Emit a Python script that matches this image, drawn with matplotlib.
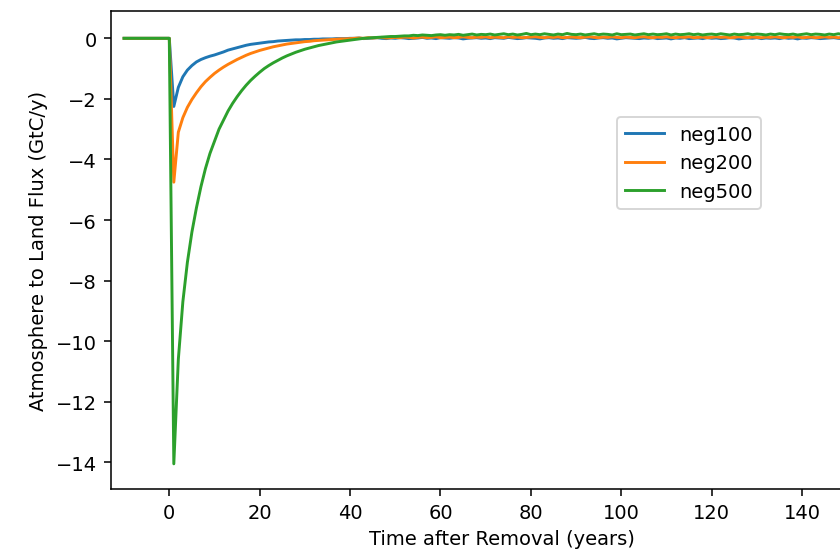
import numpy as np
import matplotlib as mpl
mpl.use("Agg")
from matplotlib import pyplot as plt

years = np.arange(-10, 156)
pre = [0.0] * 11  # t = -10 .. 0

neg100_early = [-2.25, -1.62, -1.27, -1.05, -0.90, -0.78, -0.70, -0.64, -0.59, -0.55,
                -0.50, -0.45, -0.39, -0.35, -0.31, -0.27, -0.23, -0.20, -0.18, -0.16,
                -0.14, -0.12, -0.11, -0.09, -0.08, -0.07, -0.06, -0.05, -0.05, -0.04,
                -0.04, -0.03, -0.03, -0.02, -0.02, -0.02, -0.01, -0.01, -0.01, 0.00]
neg100_late = [0.00, 0.01, -0.01, 0.00, 0.01, 0.02, 0.00, -0.01, 0.01, 0.00,
               0.02, 0.01, -0.01, 0.00, 0.01, 0.03, 0.00, 0.01, -0.01, 0.02,
               0.01, 0.00, 0.02, 0.01, -0.02, 0.00, 0.01, 0.02, 0.00, 0.01,
               -0.01, 0.02, 0.01, 0.00, 0.03, 0.01, -0.01, 0.00, 0.02, 0.01,
               0.00, -0.02, 0.01, 0.02, 0.00, 0.01, -0.01, 0.02, 0.01, 0.00,
               0.01, 0.03, 0.00, -0.01, 0.01, 0.02, 0.00, 0.01, -0.02, 0.00,
               0.02, 0.01, 0.00, -0.01, 0.01, 0.00, 0.02, -0.01, 0.00, 0.01,
               -0.02, 0.01, 0.00, 0.02, -0.01, 0.00, 0.01, -0.01, 0.02, 0.00,
               0.01, -0.01, 0.00, 0.02, 0.01, -0.02, 0.00, 0.01, 0.00, 0.02,
               -0.01, 0.01, 0.00, 0.01, -0.01, 0.02, 0.00, 0.01, -0.02, 0.01,
               0.00, 0.02, 0.01, -0.01, 0.00, 0.01, 0.02, 0.00, -0.01, 0.01,
               0.00, 0.02, 0.01, 0.00, 0.01]

neg200_early = [-4.75, -3.10, -2.62, -2.28, -2.02, -1.80, -1.60, -1.43, -1.29, -1.16,
                -1.05, -0.95, -0.86, -0.78, -0.70, -0.63, -0.56, -0.50, -0.45, -0.40,
                -0.36, -0.32, -0.28, -0.25, -0.22, -0.19, -0.17, -0.15, -0.13, -0.11,
                -0.10, -0.08, -0.07, -0.06, -0.05, -0.04, -0.03, -0.02, -0.02, -0.01]
neg200_late = [0.00, 0.01, 0.00, 0.02, 0.01, 0.02, 0.03, 0.01, 0.02, 0.03,
               0.02, 0.04, 0.03, 0.01, 0.03, 0.04, 0.02, 0.03, 0.05, 0.02,
               0.03, 0.04, 0.02, 0.03, 0.05, 0.03, 0.02, 0.04, 0.03, 0.05,
               0.02, 0.04, 0.03, 0.02, 0.05, 0.03, 0.04, 0.02, 0.03, 0.04,
               0.05, 0.03, 0.02, 0.04, 0.03, 0.05, 0.02, 0.03, 0.04, 0.03,
               0.02, 0.04, 0.05, 0.03, 0.02, 0.04, 0.03, 0.05, 0.03, 0.02,
               0.04, 0.03, 0.02, 0.04, 0.05, 0.03, 0.02, 0.04, 0.03, 0.05,
               0.03, 0.02, 0.04, 0.03, 0.05, 0.02, 0.03, 0.04, 0.02, 0.03,
               0.05, 0.03, 0.04, 0.02, 0.03, 0.05, 0.03, 0.02, 0.04, 0.03,
               0.02, 0.04, 0.03, 0.05, 0.03, 0.02, 0.04, 0.03, 0.05, 0.02,
               0.03, 0.04, 0.02, 0.03, 0.05, 0.03, 0.04, 0.02, 0.03, 0.04,
               0.03, 0.05, 0.02, 0.03, 0.04]

neg500_early = [-14.05, -10.60, -8.70, -7.40, -6.40, -5.60, -4.90, -4.30, -3.80, -3.40,
                -3.00, -2.70, -2.40, -2.15, -1.93, -1.73, -1.55, -1.39, -1.25, -1.12,
                -1.00, -0.90, -0.81, -0.73, -0.65, -0.58, -0.52, -0.46, -0.41, -0.36,
                -0.32, -0.28, -0.24, -0.21, -0.18, -0.15, -0.12, -0.10, -0.08, -0.06]
neg500_late = [-0.04, -0.02, 0.00, 0.01, 0.02, 0.03, 0.04, 0.05, 0.06, 0.06,
               0.07, 0.08, 0.08, 0.10, 0.09, 0.11, 0.10, 0.09, 0.11, 0.12,
               0.10, 0.12, 0.11, 0.13, 0.10, 0.12, 0.14, 0.11, 0.13, 0.12,
               0.14, 0.11, 0.13, 0.15, 0.12, 0.14, 0.11, 0.13, 0.16, 0.12,
               0.14, 0.12, 0.15, 0.13, 0.11, 0.14, 0.12, 0.16, 0.13, 0.12,
               0.14, 0.11, 0.13, 0.15, 0.12, 0.14, 0.13, 0.11, 0.15, 0.12,
               0.13, 0.14, 0.11, 0.13, 0.15, 0.12, 0.14, 0.12, 0.13, 0.15,
               0.11, 0.14, 0.12, 0.13, 0.15, 0.12, 0.14, 0.11, 0.13, 0.14,
               0.12, 0.15, 0.13, 0.11, 0.14, 0.12, 0.13, 0.15, 0.12, 0.14,
               0.13, 0.11, 0.14, 0.12, 0.15, 0.13, 0.12, 0.14, 0.11, 0.13,
               0.15, 0.12, 0.14, 0.13, 0.11, 0.14, 0.12, 0.15, 0.13, 0.12,
               0.14, 0.13, 0.11, 0.14, 0.12]

neg100 = pre + neg100_early + neg100_late
neg200 = pre + neg200_early + neg200_late
neg500 = pre + neg500_early + neg500_late

fig = plt.figure(figsize=(6.0, 4.007), dpi=140)
# axes runs past the right edge, the reference is cropped there
ax = fig.add_axes([0.1318, 0.1266, 0.9307, 0.8525])
ax.plot(years, neg100, label="neg100")
ax.plot(years, neg200, label="neg200")
ax.plot(years, neg500, label="neg500")
ax.set_xlim(-12.96, 160)
ax.set_ylim(-14.88, 0.91)
ax.set_xticks(np.arange(0, 141, 20))
ax.set_yticks(np.arange(-14, 0.1, 2))
ax.set_xlabel("Time after Removal (years)")
ax.set_ylabel("Atmosphere to Land Flux (GtC/y)")
ax.legend(loc="upper left", bbox_to_anchor=(0.6476, 0.7778), borderaxespad=0)
fig.savefig("out.png", dpi=140)
